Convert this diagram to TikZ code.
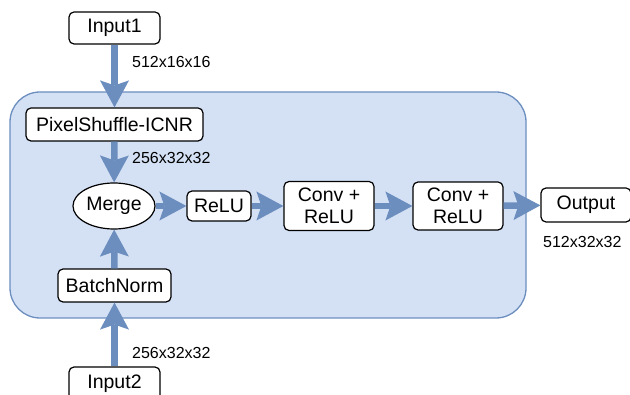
\documentclass[tikz,border=0pt]{standalone}
\usepackage{fontspec}
\setmainfont{Liberation Sans}
\usetikzlibrary{arrows.meta,shapes.geometric}
\definecolor{edgeblue}{HTML}{6C8EBF}
\definecolor{fillblue}{HTML}{D4E1F5}
\tikzset{
  box/.style={draw=black, fill=white, line width=1.2pt, rounded corners=5pt, inner sep=0pt,
    font=\fontsize{19.5}{22}\selectfont, align=center},
  oval/.style={draw=black, fill=white, line width=1.2pt, ellipse, inner sep=0pt,
    font=\fontsize{19.5}{22}\selectfont},
  dimlabel/.style={inner sep=0pt, font=\fontsize{16}{18}\selectfont},
  flow/.style={draw=edgeblue, line width=6.5pt,
    -{Stealth[length=27pt,width=29pt,inset=5pt,line width=0pt]}},
  container/.style={draw=edgeblue, fill=fillblue, line width=1.3pt, rounded corners=30pt}
}
\begin{document}
\begin{tikzpicture}[x=1pt,y=-1pt]
\useasboundingbox (0,0) rectangle (630,395);
\clip (0,0) rectangle (630,395);
\draw[container] (10,92) rectangle (526,318);
\node[box, minimum width=91pt, minimum height=32pt] (in1) at (114.5,28) {Input1};
\node[box, minimum width=177pt, minimum height=33pt] (pix) at (114.5,124.5) {PixelShuffle-ICNR};
\node[oval, minimum width=82pt, minimum height=46pt] (merge) at (114,206) {Merge};
\node[box, minimum width=64pt, minimum height=30pt] (relu) at (219,206) {ReLU};
\node[box, minimum width=90pt, minimum height=49pt] (conv1) at (329,206) {Conv +\\ReLU};
\node[box, minimum width=90pt, minimum height=48pt] (conv2) at (458,206) {Conv +\\ReLU};
\node[box, minimum width=90pt, minimum height=34pt] (out) at (586,205) {Output};
\node[box, minimum width=113pt, minimum height=33pt] (bn) at (114.5,285.5) {BatchNorm};
\node[box, minimum width=91pt, minimum height=34pt] (in2) at (114.5,384) {Input2};
\draw[flow] (in1) -- (pix);
\draw[flow] (pix) -- (merge);
\draw[flow] (bn) -- (merge);
\draw[flow] (in2) -- (bn);
\draw[flow] (merge) -- (relu);
\draw[flow] (relu) -- (conv1);
\draw[flow] (conv1) -- (conv2);
\draw[flow] (conv2) -- (out);
\node[dimlabel, anchor=west] (l1) at (132,62) {512x16x16};
\node[dimlabel, anchor=west] (l2) at (132,158) {256x32x32};
\node[dimlabel, anchor=west] (l3) at (543,242) {512x32x32};
\node[dimlabel, anchor=west] (l4) at (132,353) {256x32x32};
\end{tikzpicture}
\end{document}
